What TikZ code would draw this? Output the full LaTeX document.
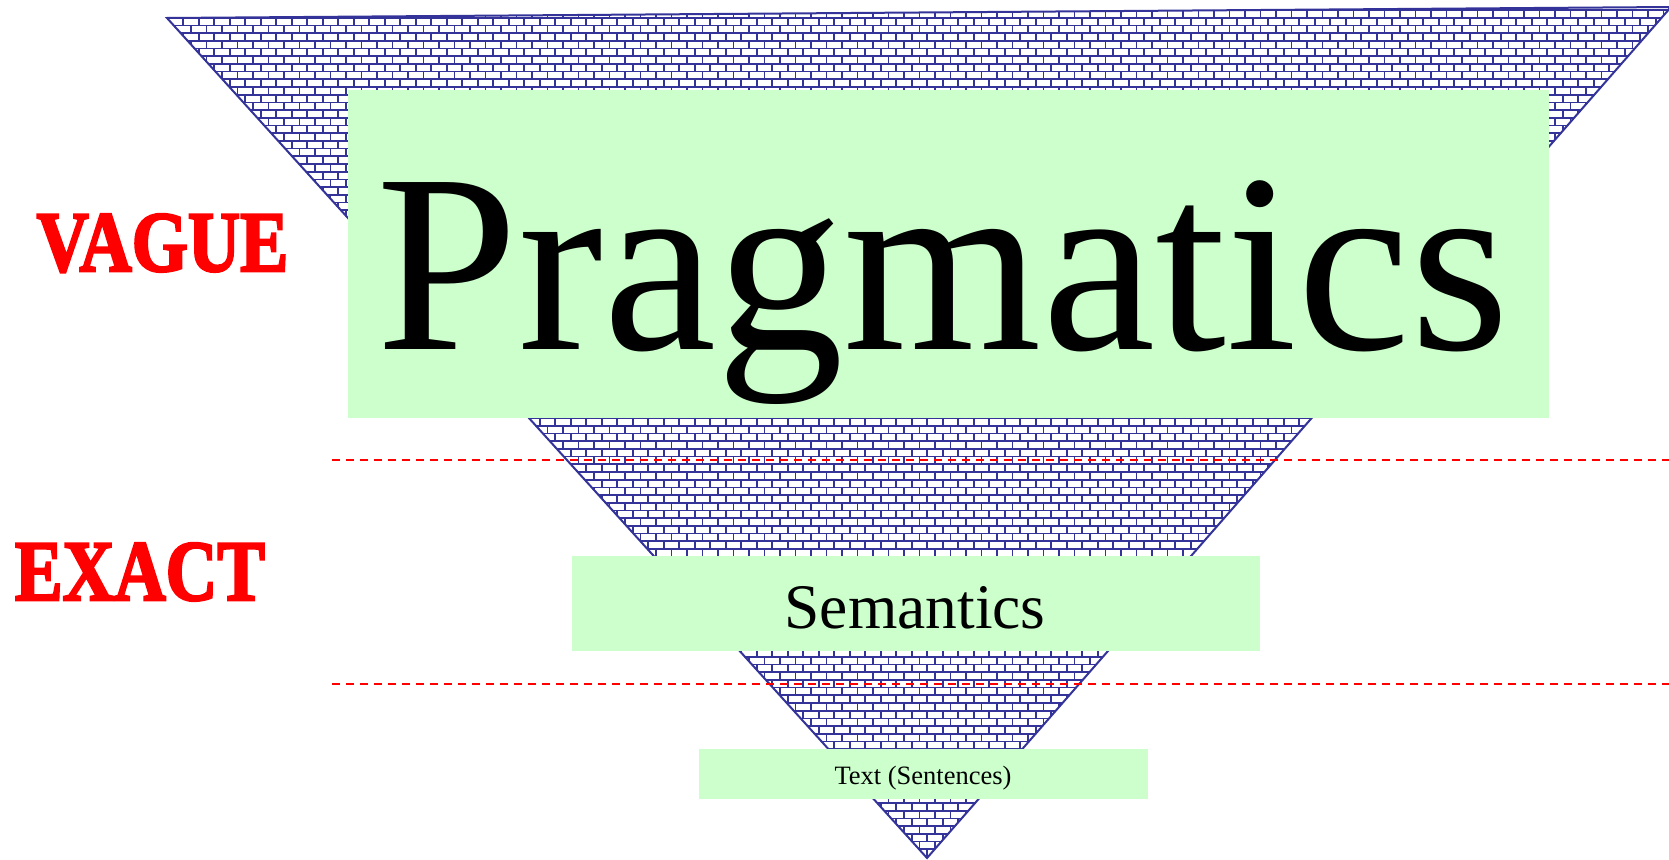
\documentclass[tikz,border=0pt]{standalone}
\usepackage{fontspec}
\setmainfont{Liberation Serif}
\newfontfamily\stencilfont[FakeBold=3]{Liberation Serif Bold}
\begin{document}
\begin{tikzpicture}[x=1pt,y=-1pt]
\definecolor{brick}{RGB}{51,51,153}
\definecolor{boxgreen}{RGB}{204,255,204}
\tikzset{
  greenbox/.style={fill=boxgreen, inner sep=0pt, anchor=north west},
  label/.style={anchor=base, inner sep=0pt},
  redtag/.style={anchor=base, inner sep=0pt, text=red, font=\fontsize{86}{86}\stencilfont},
  levelline/.style={red, line width=2.5pt, dash pattern=on 8pt off 6pt},
  brickline/.style={brick, line width=1.7pt}
}
\useasboundingbox (0,0) rectangle (1669,859);
\fill[white] (0,0) rectangle (1669,859);
\coordinate (TL) at (167,18);
\coordinate (TR) at (1671,7);
\coordinate (TIP) at (927,858);
% brick pattern
\begin{scope}
  \clip (TL) -- (TR) -- (TIP) -- cycle;
  \foreach \r in {0,...,112} {
    \draw[brickline] (150,10+\r*7.7) -- (1690,10+\r*7.7);
  }
  \foreach \k in {0,...,200} {
    \pgfmathsetmacro\ph{mod(\k,2)*7.7}
    \draw[brickline, dash pattern=on 7.7pt off 7.7pt, dash phase=\ph pt] (160+\k*7.75,10) -- (160+\k*7.75,880);
  }
\end{scope}
\draw[brick, line width=2pt, line join=miter] (TL) -- (TR) -- (TIP) -- cycle;
% boxes
\node[greenbox, minimum width=1201pt, minimum height=328pt] (pragbox) at (348,90) {};
\node[greenbox, minimum width=688pt, minimum height=95pt] (sembox) at (572,556) {};
\node[greenbox, minimum width=449pt, minimum height=50pt] (textbox) at (699,749) {};
% texts
\node[label, font=\fontsize{255}{255}\selectfont] (prag) at (943,349) {Pragmatics};
\node[label, font=\fontsize{63.5}{64}\selectfont] (sem) at (915,628) {Semantics};
\node[label, font=\fontsize{26.5}{27}\selectfont] (txt) at (923,784) {Text (Sentences)};
% dashed level lines
\coordinate (d1a) at (332,460); \coordinate (d1b) at (1669,460);
\coordinate (d2a) at (332,684); \coordinate (d2b) at (1669,684);
\draw[levelline] (d1a) -- (d1b);
\draw[levelline] (d2a) -- (d2b);
% side tags
\node[redtag] (vague) at (162.5,271) {\scalebox{0.84}[1]{VAGUE}};
\node[redtag] (exact) at (140,600) {\scalebox{0.83}[1]{EXACT}};
\end{tikzpicture}
\end{document}
